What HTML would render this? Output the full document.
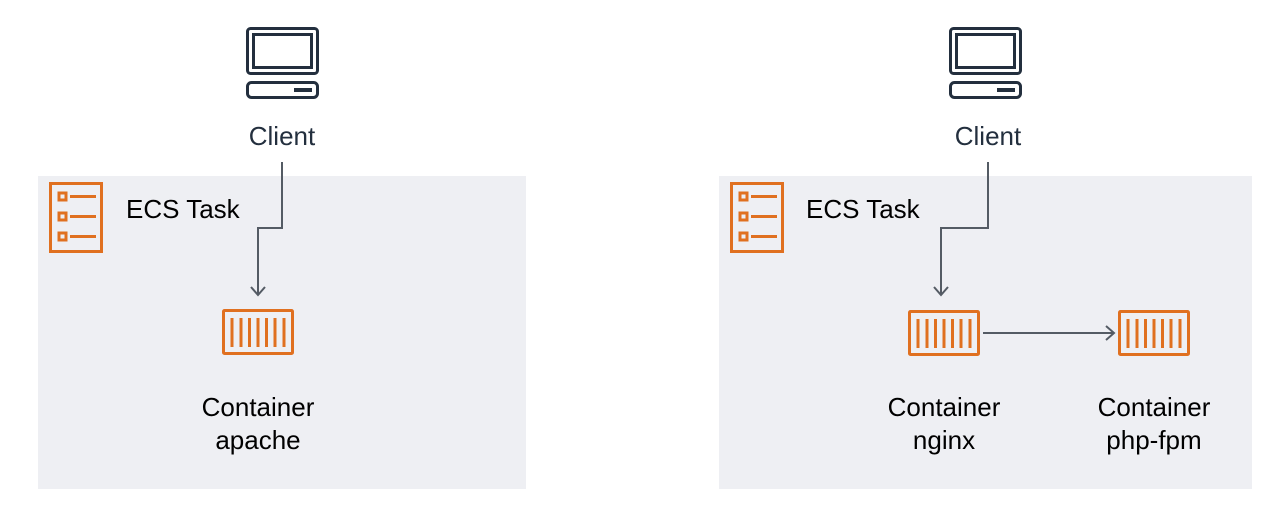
<!DOCTYPE html>
<html><head><meta charset="utf-8"><style>
html,body{margin:0;padding:0;background:#fff;}
svg{display:block;}
text{font-family:"Liberation Sans",sans-serif;font-size:26px;}
</style></head><body>
<svg width="1267" height="510" viewBox="0 0 1267 510">
<defs>
<g id="mon" fill="none" stroke="#232f3e" stroke-width="3">
<rect x="1.5" y="1.5" width="70" height="45" rx="3"/>
<rect x="7.5" y="7.5" width="58" height="33"/>
<rect x="1.5" y="55.5" width="70" height="15" rx="4"/>
<rect x="48" y="61" width="18" height="4" fill="#232f3e" stroke="none"/>
</g>
<g id="task" fill="none" stroke="#e07020" stroke-width="3">
<rect x="1.5" y="1.5" width="51" height="68"/>
<rect x="10" y="11" width="7" height="7"/>
<rect x="10" y="31" width="7" height="7"/>
<rect x="10" y="51" width="7" height="7"/>
<path d="M21 14.5h26M21 34.5h26M21 54.5h26"/>
</g>
<g id="cont" fill="none" stroke="#e07020" stroke-width="3">
<rect x="1.5" y="1.5" width="69" height="43" rx="1"/>
<path d="M10 9v29M19 9v29M27.5 9v29M36 9v29M44.5 9v29M53 9v29M62 9v29"/>
</g>
</defs>
<rect x="38" y="176" width="488" height="313" fill="#eeeff3"/>
<rect x="719" y="176" width="533" height="313" fill="#eeeff3"/>

<use href="#mon" x="246" y="27"/>
<text x="282" y="145" text-anchor="middle" fill="#232f3e">Client</text>
<use href="#task" x="49" y="182"/>
<text x="126" y="218" font-size="22" fill="#000">ECS Task</text>
<path d="M282 162V228H258V294" fill="none" stroke="#545b64" stroke-width="2"/>
<path d="M251 287l7 8 7-8" fill="none" stroke="#545b64" stroke-width="2"/>
<use href="#cont" x="222" y="309"/>
<text x="258" y="416" text-anchor="middle" fill="#000">Container</text>
<text x="258" y="449" text-anchor="middle" fill="#000">apache</text>

<use href="#mon" x="949" y="27"/>
<text x="988" y="145" text-anchor="middle" fill="#232f3e">Client</text>
<use href="#task" x="730" y="182"/>
<text x="806" y="218" font-size="22" fill="#000">ECS Task</text>
<path d="M988 162V228H941V294" fill="none" stroke="#545b64" stroke-width="2"/>
<path d="M934 287l7 8 7-8" fill="none" stroke="#545b64" stroke-width="2"/>
<use href="#cont" x="908" y="310"/>
<use href="#cont" x="1118" y="310"/>
<path d="M983 333H1114" fill="none" stroke="#545b64" stroke-width="2"/>
<path d="M1106 326l8 7-8 7" fill="none" stroke="#545b64" stroke-width="2"/>
<text x="944" y="416" text-anchor="middle" fill="#000">Container</text>
<text x="944" y="449" text-anchor="middle" fill="#000">nginx</text>
<text x="1154" y="416" text-anchor="middle" fill="#000">Container</text>
<text x="1154" y="449" text-anchor="middle" fill="#000">php-fpm</text>
</svg>
</body></html>
